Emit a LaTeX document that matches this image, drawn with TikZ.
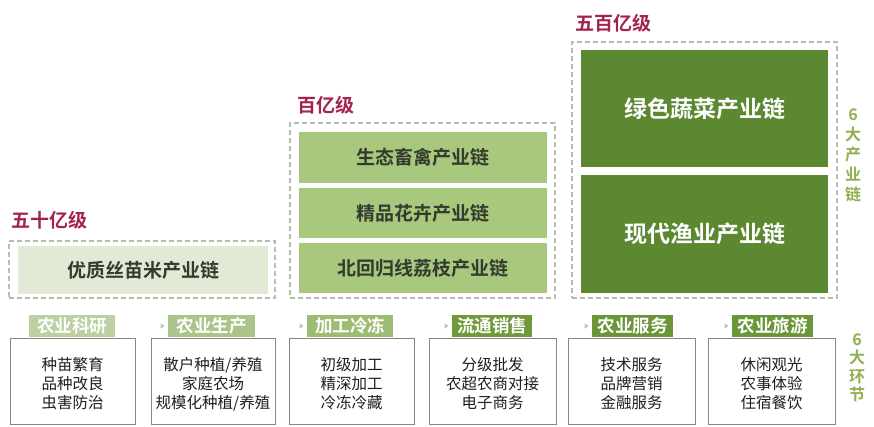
\documentclass[tikz,border=0pt]{standalone}
\usepackage{fontspec}
\setmainfont{Noto Sans CJK SC}
\newfontfamily\cjkb{Noto Sans CJK SC Bold}
\usetikzlibrary{shapes.geometric}
\definecolor{lvlred}{HTML}{A3234F}
\definecolor{dashc}{HTML}{B4BCAC}
\definecolor{gpale}{HTML}{E2EAD6}
\definecolor{gmid}{HTML}{A8C87D}
\definecolor{gdark}{HTML}{5B8830}
\definecolor{headtxt}{HTML}{333A2E}
\definecolor{sidec}{HTML}{8FB04E}
\definecolor{boxline}{HTML}{858585}
\definecolor{tagA}{HTML}{BDD0A2}
\definecolor{tagB}{HTML}{AAC489}
\definecolor{tagC}{HTML}{9DBC73}
\definecolor{tagD}{HTML}{6E9A3A}
\definecolor{tagE}{HTML}{6A9637}
\definecolor{tric}{HTML}{BFC8B5}
\tikzset{
  every node/.style={inner sep=0pt, outer sep=0pt},
  dbox/.style={draw=dashc, line width=1.4pt, dash pattern=on 5pt off 3pt, anchor=north west},
  chain/.style={anchor=north west, font=\cjkb\fontsize{19}{19}\selectfont, text=headtxt},
  lvl/.style={anchor=west, font=\cjkb\fontsize{19}{19}\selectfont, text=lvlred},
  stepbox/.style={draw=boxline, line width=0.8pt, anchor=north west, minimum height=86pt},
  steptext/.style={align=center, font=\fontsize{15.5}{19}\selectfont, text=black!88},
  tag/.style={anchor=north west, minimum height=22pt, font=\cjkb\fontsize{17.5}{17.5}\selectfont, text=white},
  tri/.style={isosceles triangle, fill=tric, minimum width=5pt, minimum height=4pt, isosceles triangle apex angle=70},
  side/.style={font=\cjkb\fontsize{16}{20}\selectfont, text=sidec, align=center}
}
\begin{document}
\begin{tikzpicture}[x=1pt,y=-1pt]
\useasboundingbox[fill=white] (0,0) rectangle (874,426);
% level labels
\node[lvl] (l1) at (11,220) {五十亿级};
\node[lvl] (l2) at (297,105) {百亿级};
\node[lvl] (l3) at (575,23) {五百亿级};
% dashed groups
\node[dbox, minimum width=266pt, minimum height=57pt] (g1) at (9,241) {};
\node[dbox, minimum width=265pt, minimum height=175pt] (g2) at (290,123) {};
\node[dbox, minimum width=265pt, minimum height=256pt] (g3) at (572,42) {};
% chains
\node[chain, fill=gpale, minimum width=250pt, minimum height=48pt] (c1) at (18,246) {优质丝苗米产业链};
\node[chain, fill=gmid, minimum width=248pt, minimum height=51pt] (c2) at (299,132) {生态畜禽产业链};
\node[chain, fill=gmid, minimum width=248pt, minimum height=50pt] (c3) at (299,188) {精品花卉产业链};
\node[chain, fill=gmid, minimum width=248pt, minimum height=50pt] (c4) at (299,243) {北回归线荔枝产业链};
\node[chain, fill=gdark, text=white, font=\cjkb\fontsize{23}{23}\selectfont, minimum width=247pt, minimum height=117pt] (c5) at (581,50) {绿色蔬菜产业链};
\node[chain, fill=gdark, text=white, font=\cjkb\fontsize{23}{23}\selectfont, minimum width=247pt, minimum height=118pt] (c6) at (581,175) {现代渔业产业链};
\node[side] (s1) at (853,155) {6\\大\\产\\业\\链};
% steps
\node[stepbox, minimum width=125pt] (b1) at (10,338) {};
\node[stepbox, minimum width=124pt] (b2) at (151,338) {};
\node[stepbox, minimum width=125pt] (b3) at (289,338) {};
\node[stepbox, minimum width=127pt] (b4) at (429,338) {};
\node[stepbox, minimum width=127pt] (b5) at (568,338) {};
\node[stepbox, minimum width=127pt] (b6) at (708,338) {};
\node[steptext] (x1) at ([yshift=-3pt]b1.center) {种苗繁育\\品种改良\\虫害防治};
\node[steptext] (x2) at ([yshift=-3pt]b2.center) {散户种植/养殖\\家庭农场\\规模化种植/养殖};
\node[steptext] (x3) at ([yshift=-3pt]b3.center) {初级加工\\精深加工\\冷冻冷藏};
\node[steptext] (x4) at ([yshift=-3pt]b4.center) {分级批发\\农超农商对接\\电子商务};
\node[steptext] (x5) at ([yshift=-3pt]b5.center) {技术服务\\品牌营销\\金融服务};
\node[steptext] (x6) at ([yshift=-3pt]b6.center) {休闲观光\\农事体验\\住宿餐饮};
\node[tag, fill=tagA, minimum width=86pt] (t1) at (29,315) {农业科研};
\node[tag, fill=tagB, minimum width=87pt] (t2) at (168,315) {农业生产};
\node[tag, fill=tagC, minimum width=86pt] (t3) at (307,315) {加工冷冻};
\node[tag, fill=tagD, minimum width=80pt] (t4) at (452,315) {流通销售};
\node[tag, fill=tagE, minimum width=81pt] (t5) at (592,315) {农业服务};
\node[tag, fill=tagE, minimum width=81pt] (t6) at (732,315) {农业旅游};
\node[tri] (a2) at (162,326) {};
\node[tri] (a3) at (301,326) {};
\node[tri] (a4) at (446,326) {};
\node[tri] (a5) at (586,326) {};
\node[tri] (a6) at (726,326) {};
\node[side, font=\cjkb\fontsize{16}{18.5}\selectfont] (s2) at (857,368) {6\\大\\环\\节};
\end{tikzpicture}
\end{document}
